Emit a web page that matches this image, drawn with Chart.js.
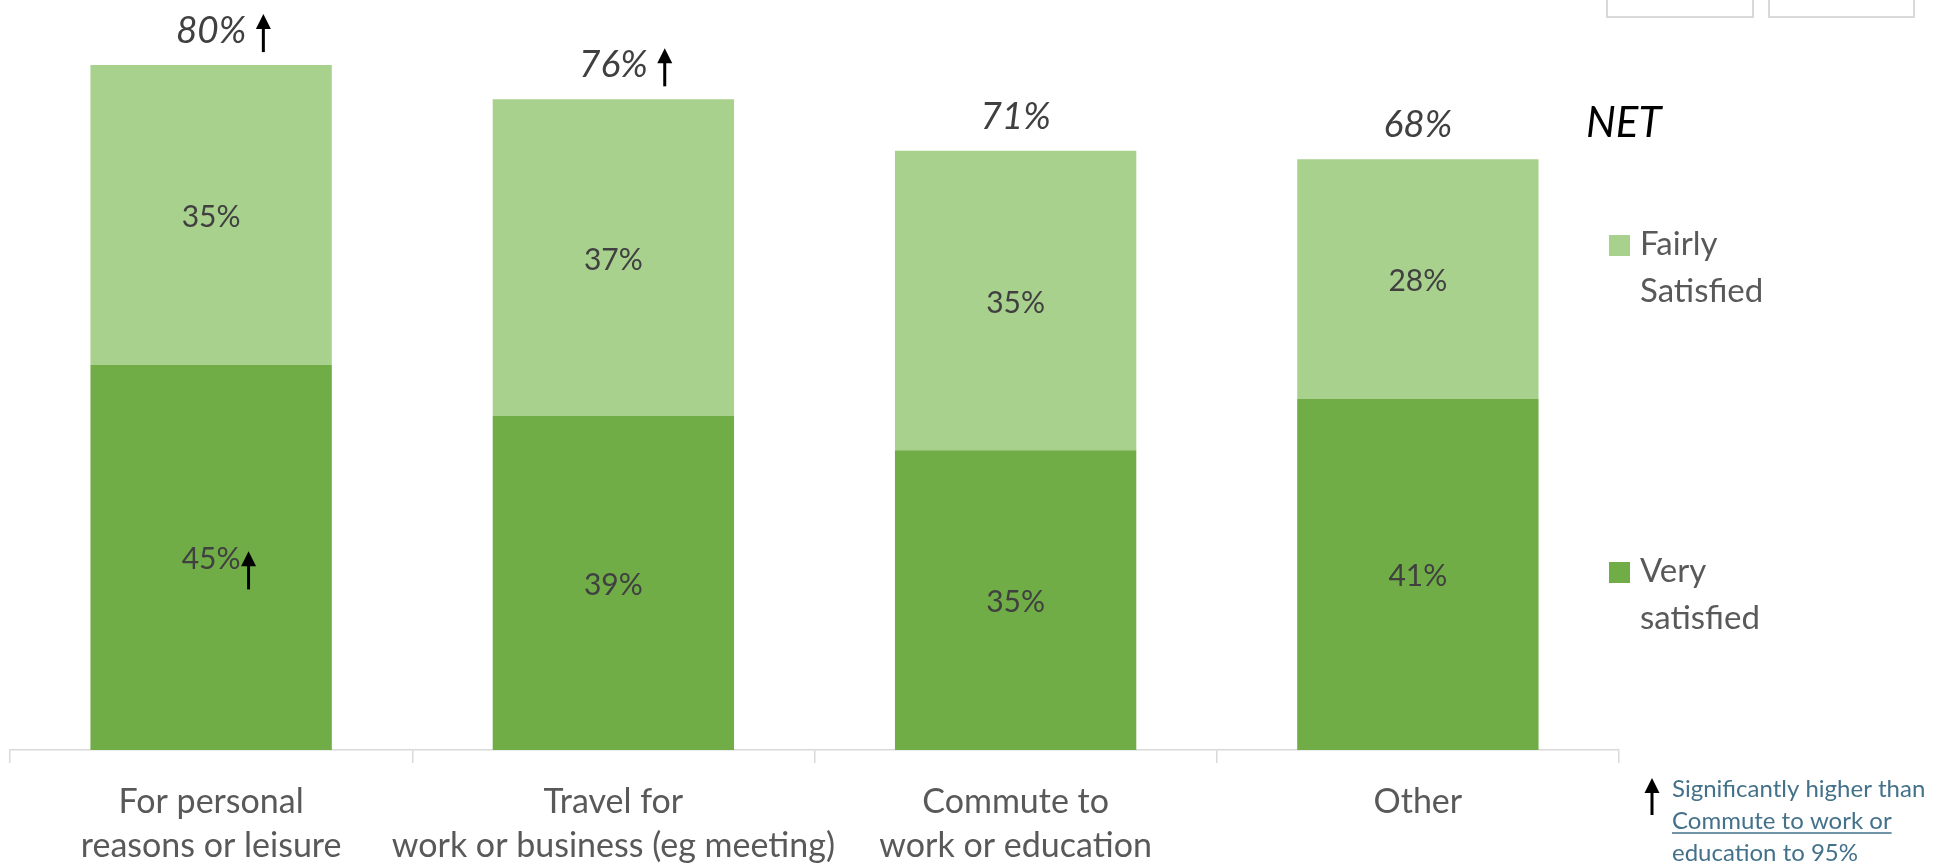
<!DOCTYPE html>
<html>
<head>
<meta charset="utf-8">
<title>Satisfaction by journey purpose</title>
<script src="https://cdn.jsdelivr.net/npm/chart.js@4.4.1/dist/chart.umd.min.js"></script>
<style>
  html, body { margin: 0; padding: 0; background: #fff; overflow: hidden; }
  #wrap { position: relative; width: 1933px; height: 885px; }
</style>
</head>
<body>
<div id="wrap"><canvas id="satChart"></canvas></div>
<script>
// Journey purpose categories (two-line axis labels)
const categories = [
    ['For personal', 'reasons or leisure'],
    ['Travel for', 'work or business (eg meeting)'],
    ['Commute to', 'work or education'],
    ['Other']
];
const verySatisfied = [45, 39, 35, 41];
const fairlySatisfied = [35, 37, 35, 28];
const netSatisfied = [80, 76, 71, 68];
// Significantly higher than "Commute to work or education"
const netHigher = [true, true, false, false];
const veryHigher = [true, false, false, false];

const FONT = 'Lato, "Open Sans", sans-serif';
const DARK_GREEN = '#70AD47';
const LIGHT_GREEN = '#A9D18E';

// Small black up-arrow used as significance marker
function drawArrow(ctx, x, tipY, length) {
    ctx.save();
    ctx.fillStyle = '#000';
    ctx.beginPath();
    ctx.moveTo(x, tipY);
    ctx.lineTo(x + 7.5, tipY + 15);
    ctx.lineTo(x - 7.5, tipY + 15);
    ctx.closePath();
    ctx.fill();
    ctx.fillRect(x - 1.5, tipY + 14, 3, length - 14);
    ctx.restore();
}

// Segment values inside bars + NET totals above
const barLabels = {
    id: 'barLabels',
    afterDatasetsDraw(chart) {
        const ctx = chart.ctx;
        const very = chart.getDatasetMeta(0).data;
        const fairly = chart.getDatasetMeta(1).data;
        ctx.save();
        ctx.fillStyle = '#404040';
        ctx.textAlign = 'center';
        ctx.textBaseline = 'alphabetic';

        ctx.font = '30px ' + FONT;
        [[very, verySatisfied], [fairly, fairlySatisfied]].forEach(([bars, values], d) => {
            bars.forEach((bar, i) => {
                const mid = (bar.y + bar.base) / 2;
                const text = values[i] + '%';
                ctx.fillText(text, bar.x, mid + 12);
                if (d === 0 && veryHigher[i]) {
                    const w = ctx.measureText(text).width;
                    drawArrow(ctx, bar.x + w / 2 + 8, mid - 6, 38);
                }
            });
        });

        ctx.font = 'italic 37px ' + FONT;
        fairly.forEach((bar, i) => {
            const baseline = bar.y - 22;
            const text = netSatisfied[i] + '%';
            ctx.fillText(text, bar.x, baseline);
            if (netHigher[i]) {
                const w = ctx.measureText(text).width;
                drawArrow(ctx, bar.x + w / 2 + 17, baseline - 29, 38);
            }
        });
        ctx.restore();
    }
};

// NET header, legend, footnote and the two boxes at the top right
const sidePanel = {
    id: 'sidePanel',
    afterDraw(chart) {
        const ctx = chart.ctx;
        ctx.save();

        ctx.strokeStyle = '#d9d9d9';
        ctx.lineWidth = 2;
        ctx.strokeRect(1607, -5, 146, 22);
        ctx.strokeRect(1769, -5, 145, 22);

        ctx.fillStyle = '#000';
        ctx.textAlign = 'left';
        ctx.textBaseline = 'alphabetic';
        ctx.font = 'italic 42px ' + FONT;
        ctx.fillText('NET', 1586, 137);

        const legend = [
            { color: LIGHT_GREEN, lines: ['Fairly', 'Satisfied'], top: 235 },
            { color: DARK_GREEN, lines: ['Very', 'satisfied'], top: 562 }
        ];
        ctx.font = '33px ' + FONT;
        legend.forEach(item => {
            ctx.fillStyle = item.color;
            ctx.fillRect(1609, item.top, 21, 21);
            ctx.fillStyle = '#595959';
            item.lines.forEach((line, k) => ctx.fillText(line, 1640, item.top + 20 + k * 47));
        });

        drawArrow(ctx, 1652, 778, 37);
        ctx.fillStyle = '#44718a';
        ctx.strokeStyle = '#44718a';
        ctx.font = '24px ' + FONT;
        const note = ['Significantly higher than', 'Commute to work or', 'education to 95%'];
        note.forEach((line, k) => {
            const y = 797 + k * 32;
            ctx.fillText(line, 1672, y);
            if (k === 1) {
                const w = ctx.measureText(line).width;
                ctx.lineWidth = 1.5;
                ctx.beginPath();
                ctx.moveTo(1672, y + 4);
                ctx.lineTo(1672 + w, y + 4);
                ctx.stroke();
            }
        });
        ctx.restore();
    }
};

new Chart(document.getElementById('satChart'), {
    type: 'bar',
    data: {
        labels: categories,
        datasets: [{
            label: 'Very satisfied',
            data: verySatisfied,
            backgroundColor: DARK_GREEN
        }, {
            label: 'Fairly Satisfied',
            data: fairlySatisfied,
            backgroundColor: LIGHT_GREEN
        }]
    },
    options: {
        responsive: true,
        maintainAspectRatio: false,
        animation: false,
        layout: { padding: { left: 10, right: 314, top: 24, bottom: 0 } },
        datasets: { bar: { barPercentage: 0.6, categoryPercentage: 1 } },
        plugins: {
            legend: { display: false },
            tooltip: { enabled: false }
        },
        scales: {
            x: {
                stacked: true,
                grid: {
                    offset: true,
                    drawOnChartArea: false,
                    tickLength: 13,
                    color: '#d9d9d9',
                    lineWidth: 1.5
                },
                border: { color: '#d9d9d9', width: 1.5 },
                ticks: {
                    color: '#595959',
                    font: { family: FONT, size: 34, lineHeight: '44px' },
                    padding: 17,
                    maxRotation: 0,
                    autoSkip: false
                }
            },
            y: {
                stacked: true,
                display: false,
                min: 0,
                max: 84.8
            }
        }
    },
    plugins: [barLabels, sidePanel]
});
</script>
</body>
</html>
